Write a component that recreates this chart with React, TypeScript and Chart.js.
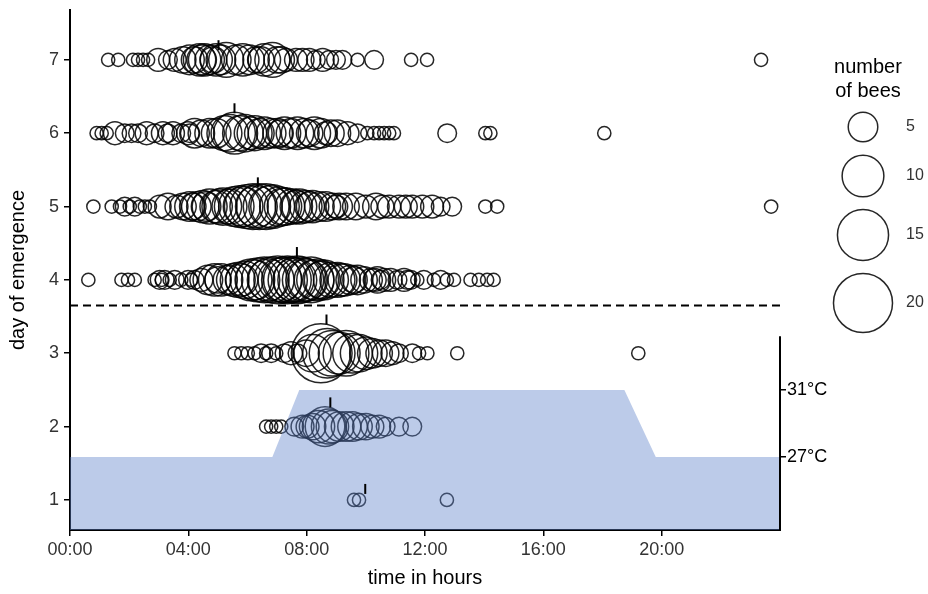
import React, { useEffect, useRef } from 'react';
import { Chart, registerables } from 'chart.js';

Chart.register(...registerables);

// ---------- axis ticks ----------
const dayTicks = [1, 2, 3, 4, 5, 6, 7];
const hourTicks = [0, 4, 8, 12, 16, 20];
const tempTicks = [27, 31];

// ---------- emergence bubbles: time (hours) and number of bees ----------
const day1Hours = [9.6, 9.77, 12.74];
const day1Counts = [1, 1, 1];

const day2Hours = [6.63, 6.8, 6.97, 7.14, 7.58, 7.86, 8.03, 8.2, 8.4, 8.62, 8.75, 8.87, 9.1, 9.33, 9.55, 9.77, 10.0, 10.22, 10.45, 10.67, 11.12, 11.57];
const day2Counts = [1, 1, 1, 1, 2, 3, 3, 4, 6, 9, 7, 6, 5, 5, 5, 4, 4, 3, 3, 2, 2, 2];

const day3Hours = [5.56, 5.79, 6.01, 6.24, 6.46, 6.63, 6.8, 6.97, 7.25, 7.47, 7.69, 7.98, 8.2, 8.48, 8.7, 8.86, 9.1, 9.33, 9.55, 9.77, 10.0, 10.22, 10.45, 10.67, 10.9, 11.12, 11.57, 11.8, 12.08, 13.09, 19.21];
const day3Counts = [1, 1, 1, 1, 2, 1, 2, 1, 2, 3, 2, 4, 8, 20, 14, 12, 10, 12, 9, 8, 6, 5, 4, 4, 3, 2, 2, 1, 1, 1, 1];

const day4Hours = [0.62, 1.74, 1.96, 2.19, 2.86, 3.03, 3.1, 3.2, 3.37, 3.54, 3.76, 3.99, 4.1, 4.21, 4.44, 4.66, 4.89, 5.0, 5.11, 5.34, 5.5, 5.67, 5.8, 5.9, 6.12, 6.25, 6.35, 6.57, 6.7, 6.8, 7.02, 7.1, 7.25, 7.35, 7.47, 7.6, 7.69, 7.8, 7.92, 8.0, 8.15, 8.25, 8.37, 8.5, 8.59, 8.82, 9.04, 9.15, 9.27, 9.49, 9.6, 9.72, 9.94, 10.17, 10.3, 10.39, 10.5, 10.62, 10.84, 11.07, 11.29, 11.4, 11.52, 11.74, 11.96, 12.3, 12.53, 12.74, 12.98, 13.54, 13.82, 14.1, 14.32];
const day4Counts = [1, 1, 1, 1, 1, 2, 1, 2, 1, 2, 1, 2, 1, 2, 3, 5, 6, 4, 6, 5, 6, 7, 6, 8, 10, 9, 11, 12, 10, 12, 13, 11, 12, 13, 12, 11, 13, 12, 11, 10, 12, 9, 10, 8, 9, 7, 7, 6, 6, 5, 4, 5, 4, 3, 3, 4, 2, 3, 3, 2, 3, 2, 2, 1, 2, 1, 2, 1, 1, 1, 1, 1, 1];

const day5Hours = [0.79, 1.41, 1.69, 1.85, 2.02, 2.19, 2.36, 2.53, 2.7, 3.03, 3.31, 3.6, 3.82, 4.04, 4.15, 4.27, 4.49, 4.6, 4.72, 4.94, 5.05, 5.17, 5.39, 5.55, 5.73, 5.85, 5.96, 6.18, 6.3, 6.4, 6.63, 6.75, 6.85, 7.08, 7.2, 7.3, 7.53, 7.65, 7.75, 7.97, 8.1, 8.2, 8.43, 8.65, 8.87, 9.0, 9.1, 9.33, 9.66, 10.0, 10.34, 10.56, 10.79, 11.12, 11.35, 11.57, 11.91, 12.24, 12.53, 12.92, 14.04, 14.44, 23.7];
const day5Counts = [1, 1, 1, 2, 1, 2, 1, 1, 1, 3, 4, 3, 4, 5, 4, 5, 6, 5, 7, 6, 7, 8, 7, 9, 10, 9, 11, 12, 10, 12, 12, 10, 11, 9, 8, 8, 7, 6, 7, 6, 5, 6, 5, 5, 4, 3, 4, 4, 4, 3, 4, 3, 3, 3, 3, 3, 3, 3, 2, 2, 1, 1, 1];

const day6Hours = [0.9, 1.07, 1.24, 1.52, 1.85, 2.08, 2.3, 2.59, 2.86, 3.14, 3.3, 3.48, 3.76, 3.99, 4.05, 4.21, 4.44, 4.72, 4.94, 5.22, 5.4, 5.56, 5.75, 5.9, 6.1, 6.24, 6.4, 6.57, 6.8, 7.02, 7.1, 7.25, 7.47, 7.69, 7.92, 8.1, 8.26, 8.48, 8.65, 8.82, 9.04, 9.38, 9.72, 10.05, 10.28, 10.45, 10.62, 10.79, 10.95, 12.75, 14.04, 14.21, 18.06];
const day6Counts = [1, 1, 1, 3, 2, 2, 2, 3, 2, 3, 2, 3, 2, 3, 2, 5, 4, 5, 5, 7, 8, 10, 7, 8, 6, 7, 5, 6, 5, 5, 4, 6, 5, 6, 5, 4, 6, 5, 3, 4, 4, 3, 2, 1, 1, 1, 1, 1, 1, 2, 1, 1, 1];

const day7Hours = [1.29, 1.63, 2.13, 2.3, 2.47, 2.64, 2.98, 3.31, 3.54, 3.81, 4.04, 4.21, 4.38, 4.45, 4.55, 4.72, 4.85, 4.94, 5.1, 5.28, 5.62, 5.84, 6.07, 6.29, 6.45, 6.57, 6.84, 7.0, 7.14, 7.3, 7.64, 7.86, 8.09, 8.31, 8.54, 8.76, 8.99, 9.21, 9.72, 10.28, 11.53, 12.07, 23.36];
const day7Counts = [1, 1, 1, 1, 1, 1, 3, 2, 3, 4, 5, 4, 6, 5, 6, 5, 4, 6, 5, 7, 5, 6, 5, 4, 4, 6, 7, 4, 4, 3, 3, 3, 3, 2, 3, 2, 2, 2, 1, 2, 1, 1, 1];

// ---------- median emergence time per day (days 1..7) ----------
const medianHours = [9.98, 8.8, 8.67, 7.67, 6.35, 5.56, 5.02];
const medianLift = [0.15, 0.33, 0.46, 0.38, 0.33, 0.34, 0.2];

// ---------- separation line between days 3 and 4 ----------
const cutoffDay = 3.65;

// ---------- temperature profile ----------
const tempHours = [0, 6.84, 7.75, 18.74, 19.8, 24];
const tempValues = [27, 27, 31, 31, 27, 27];
const tempAxisTop = 34.2;

// ---------- size legend ----------
const legendCounts = [5, 10, 15, 20];

const FONT = "'Liberation Sans', Arial, Helvetica, sans-serif";
const sizeScale = (n: number) => 6.6 * Math.sqrt(n);

const rows = [
  [day1Hours, day1Counts],
  [day2Hours, day2Counts],
  [day3Hours, day3Counts],
  [day4Hours, day4Counts],
  [day5Hours, day5Counts],
  [day6Hours, day6Counts],
  [day7Hours, day7Counts],
];

const overlayPlugin = {
  id: 'overlay',
  afterDraw(chart: any) {
    const ctx = chart.ctx;
    const area = chart.chartArea;
    const yT = chart.scales.yT;
    ctx.save();
    // partial temperature axis line
    ctx.strokeStyle = '#000';
    ctx.lineWidth = 2;
    ctx.beginPath();
    ctx.moveTo(area.right, yT.getPixelForValue(tempAxisTop));
    ctx.lineTo(area.right, area.bottom + 1);
    ctx.stroke();

    // size legend
    ctx.fillStyle = '#000';
    ctx.font = `20px ${FONT}`;
    ctx.textAlign = 'center';
    ctx.textBaseline = 'middle';
    ctx.fillText('number', 868, 67);
    ctx.fillText('of bees', 868, 91);
    const legendY = [127, 176, 235, 303];
    legendCounts.forEach((n, i) => {
      ctx.beginPath();
      ctx.arc(863, legendY[i], sizeScale(n), 0, Math.PI * 2);
      ctx.strokeStyle = 'rgba(0,0,0,0.85)';
      ctx.lineWidth = 1.5;
      ctx.stroke();
      ctx.fillStyle = '#333';
      ctx.textAlign = 'left';
      ctx.font = `16px ${FONT}`;
      ctx.fillText(String(n), 906, legendY[i]);
    });
    ctx.restore();
  },
};

const noVerticalPadding = (s: any) => {
  s.paddingTop = 0;
  s.paddingBottom = 0;
};

export default function App() {
  const ref = useRef<HTMLCanvasElement | null>(null);

  useEffect(() => {
    if (!ref.current) return;
    const bubbles: any[] = [];
    rows.forEach(([hours, counts], i) => {
      hours.forEach((h, j) => bubbles.push({ x: h, y: dayTicks[i], r: sizeScale(counts[j]) }));
    });
    const medians = medianHours.map((h, i) => ({ x: h, y: dayTicks[i] + medianLift[i] }));
    const temp = tempHours.map((h, i) => ({ x: h, y: tempValues[i] }));

    const tickFont = { family: FONT, size: 18 };
    const titleFont = { family: FONT, size: 20 };

    const chart = new Chart(ref.current, {
      type: 'bubble',
      data: {
        datasets: [
          {
            type: 'line',
            label: 'temperature',
            data: temp,
            xAxisID: 'x',
            yAxisID: 'yT',
            fill: 'start',
            backgroundColor: 'rgba(95,131,203,0.42)',
            borderWidth: 0,
            borderColor: 'rgba(0,0,0,0)',
            pointRadius: 0,
            tension: 0,
            order: 0,
          } as any,
          {
            type: 'bubble',
            label: 'bees',
            data: bubbles,
            xAxisID: 'x',
            yAxisID: 'y',
            backgroundColor: 'rgba(0,0,0,0)',
            borderColor: 'rgba(0,0,0,0.85)',
            borderWidth: 1.5,
            order: 1,
          } as any,
          {
            type: 'line',
            label: 'cutoff',
            data: [
              { x: 0, y: cutoffDay },
              { x: 24, y: cutoffDay },
            ],
            xAxisID: 'x',
            yAxisID: 'y',
            borderColor: '#000',
            borderWidth: 2,
            borderDash: [8, 5],
            pointRadius: 0,
            fill: false,
            order: -1,
          } as any,
          {
            type: 'scatter',
            label: 'median',
            data: medians,
            xAxisID: 'x',
            yAxisID: 'y',
            showLine: false,
            pointStyle: 'line',
            pointRotation: 90,
            pointRadius: 5,
            pointBorderWidth: 2,
            pointBorderColor: '#000',
            order: -2,
          } as any,
        ],
      },
      options: {
        responsive: false,
        animation: false,
        events: [],
        layout: { autoPadding: false, padding: { top: 10, right: 88, bottom: 0, left: 0 } },
        plugins: { legend: { display: false }, tooltip: { enabled: false } },
        scales: {
          x: {
            type: 'linear',
            position: 'bottom',
            min: 0,
            max: 24,
            z: 1,
            afterBuildTicks: (s: any) => {
              s.ticks = hourTicks.map((v) => ({ value: v }));
            },
            afterFit: (s: any) => {
              s.height = 64;
            },
            ticks: {
              autoSkip: false,
              maxRotation: 0,
              padding: 3,
              color: '#333',
              font: tickFont,
              callback: (v: any) => String(v).padStart(2, '0') + ':00',
            },
            grid: { drawOnChartArea: false, drawTicks: true, tickLength: 6, color: '#000', lineWidth: 1.5 },
            border: { display: true, color: '#000', width: 2 },
            title: { display: true, text: 'time in hours', color: '#000', font: titleFont, padding: { top: 0, bottom: 4 } },
          },
          y: {
            type: 'linear',
            position: 'left',
            min: 0.59,
            max: 7.68,
            z: 1,
            afterBuildTicks: (s: any) => {
              s.ticks = dayTicks.map((v) => ({ value: v }));
            },
            afterFit: (s: any) => {
              s.width = 70;
              noVerticalPadding(s);
            },
            ticks: { padding: 5, color: '#333', font: tickFont, callback: (v: any) => String(v) },
            grid: { drawOnChartArea: false, drawTicks: true, tickLength: 6, color: '#000', lineWidth: 1.5 },
            border: { display: true, color: '#000', width: 2 },
            title: { display: true, text: 'day of emergence', color: '#000', font: titleFont, padding: { top: 6, bottom: 0 } },
          },
          yT: {
            type: 'linear',
            position: 'right',
            min: 22.64,
            max: 53.68,
            afterBuildTicks: (s: any) => {
              s.ticks = tempTicks.map((v) => ({ value: v }));
            },
            afterFit: (s: any) => {
              s.width = 60;
              noVerticalPadding(s);
            },
            ticks: { padding: 1, color: '#000', font: tickFont, callback: (v: any) => v + '°C' },
            grid: { drawOnChartArea: false, drawTicks: true, tickLength: 6, color: '#000', lineWidth: 1.5 },
            border: { display: false },
          },
        },
      } as any,
      plugins: [overlayPlugin],
    });
    return () => chart.destroy();
  }, []);

  return (
    <div style={{ position: 'absolute', left: 0, top: 0, width: 928, height: 594, background: '#fff' }}>
      <canvas ref={ref} width={928} height={594} style={{ display: 'block' }} />
    </div>
  );
}
